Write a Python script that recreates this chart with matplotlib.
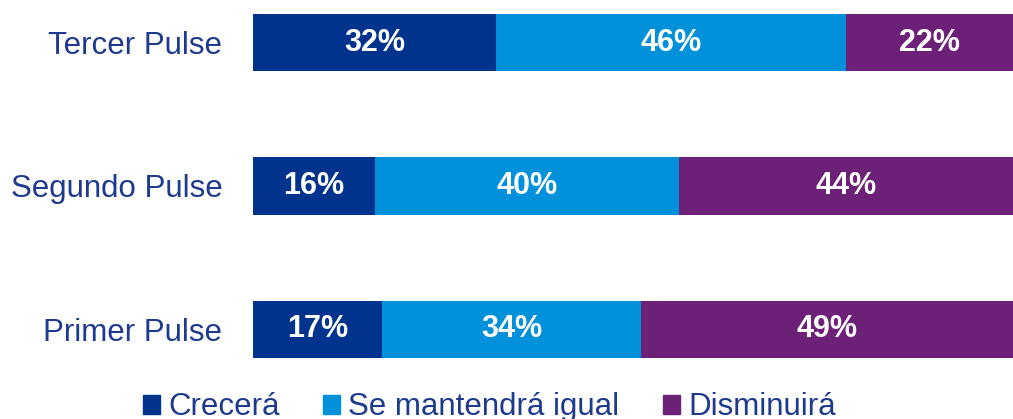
import matplotlib
matplotlib.use('Agg')
import matplotlib.pyplot as plt
from matplotlib.patches import Patch

plt.rcParams['font.family'] = ['Liberation Sans', 'DejaVu Sans']

categorias = ['Primer Pulse', 'Segundo Pulse', 'Tercer Pulse']
crecera = [17, 16, 32]
igual = [34, 40, 46]
disminuira = [49, 44, 22]
series = ['Crecerá', 'Se mantendrá igual', 'Disminuirá']
colores = ['#00338D', '#0091DA', '#6D2077']
texto = '#1E3A8C'

fig = plt.figure(figsize=(10.13, 4.19), dpi=100)
ax = fig.add_axes([0.2498, 0.1456, 0.7502, 0.821])

y = range(len(categorias))
izq = [0, 0, 0]
for vals, col in zip([crecera, igual, disminuira], colores):
    bars = ax.barh(y, vals, left=izq, height=0.4, color=col)
    for b, v in zip(bars, vals):
        ax.text(b.get_x() + b.get_width() / 2, b.get_y() + b.get_height() / 2,
                f'{v}%', ha='center', va='center', color='white',
                fontsize=22, fontweight='bold')
    izq = [a + b for a, b in zip(izq, vals)]

ax.set_xlim(0, 100)
ax.set_ylim(-0.2, 2.2)
ax.set_yticks(list(y))
ax.set_yticklabels(categorias, fontsize=22.5, color=texto)
ax.tick_params(axis='y', length=0, pad=22)
ax.set_xticks([])
for s in ax.spines.values():
    s.set_visible(False)

handles = [Patch(color=c, label=s) for c, s in zip(colores, series)]
leg = fig.legend(handles=handles, loc='center', bbox_to_anchor=(0.483, 0.028), ncol=3,
                 frameon=False, fontsize=22.5, handlelength=0.55, handleheight=0.55,
                 handletextpad=0.25, columnspacing=1.4, borderpad=0)
for t in leg.get_texts():
    t.set_color(texto)

fig.savefig('out.png', dpi=100)
